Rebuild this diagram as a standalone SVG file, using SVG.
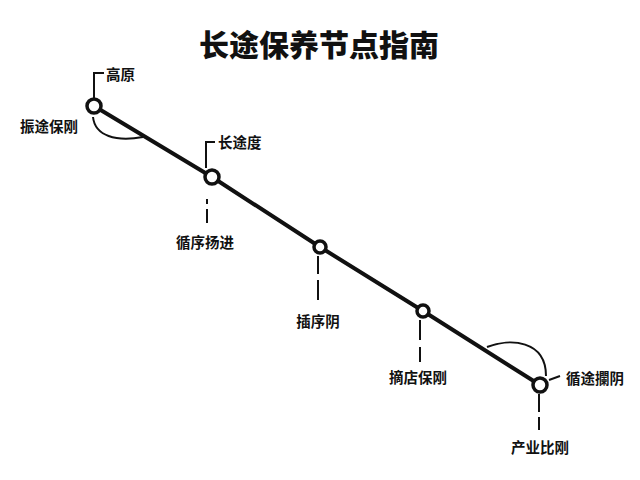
<svg xmlns="http://www.w3.org/2000/svg" width="640" height="480" viewBox="0 0 640 480">
<style>
.t{font-family:"Noto Sans CJK SC","Noto Sans",sans-serif;font-weight:bold;fill:#111;}
.lbl{font-size:14.5px;}
.ttl{font-size:30px;font-weight:900;}
.ln{stroke:#111;fill:none;stroke-width:2;}
.main{stroke:#111;fill:none;stroke-width:4;stroke-linejoin:round;}
.nd{fill:#fff;stroke:#111;stroke-width:3.5;}
</style>
<rect width="640" height="480" fill="#fff"/>
<text class="t ttl" x="319" y="56" text-anchor="middle">长途保养节点指南</text>
<g id="connectors">
<polyline class="main" points="94,106 212,177 320,247 423,311 540,385"/>
<path class="ln" d="M94,98 V73 H104"/>
<path class="ln" d="M93,117 C95,136 116,142 143,137"/>
<path class="ln" d="M206,168 V142 H215"/>
<path class="ln" d="M207,199 V204 M207,209 V223"/>
<path class="ln" d="M318,256 V274 M318,280 V300"/>
<path class="ln" d="M420,320 V340 M420,347 V362"/>
<path class="ln" d="M539,394 V412 M539,417 V430"/>
<path class="ln" d="M549,380 L560,376"/>
<path class="ln" d="M487,347 C510,338 546,340 546,376"/>
</g>
<g id="n1"><circle class="nd" cx="94" cy="106" r="7"/><text class="t lbl" x="106" y="80">高原</text><text class="t lbl" x="20" y="132">振途保刚</text></g>
<g id="n2"><circle class="nd" cx="212" cy="177" r="7"/><text class="t lbl" x="218" y="148">长途度</text><text class="t lbl" x="205" y="248" text-anchor="middle">循序扬进</text></g>
<g id="n3"><circle class="nd" cx="320" cy="247" r="6"/><text class="t lbl" x="318" y="327" text-anchor="middle">插序阴</text></g>
<g id="n4"><circle class="nd" cx="423" cy="311" r="6"/><text class="t lbl" x="418" y="383" text-anchor="middle">摘店保刚</text></g>
<g id="n5"><circle class="nd" cx="540" cy="385" r="7"/><text class="t lbl" x="566" y="384">循途攔阴</text><text class="t lbl" x="540" y="453" text-anchor="middle">产业比刚</text></g>
</svg>
